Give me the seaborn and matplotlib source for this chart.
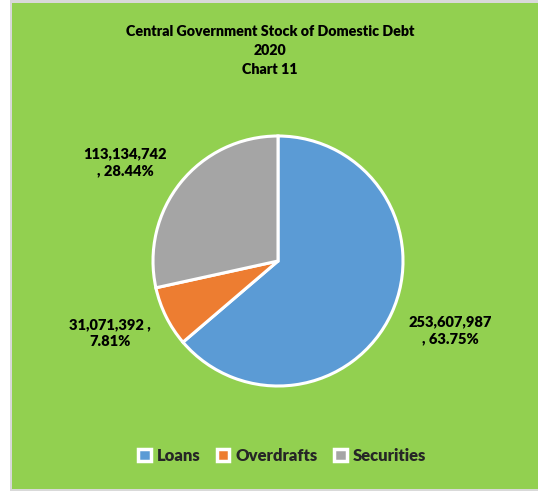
import matplotlib
matplotlib.use("Agg")
import matplotlib.pyplot as plt
from matplotlib.patches import Rectangle, Patch
import seaborn as sns

categories = ["Loans", "Overdrafts", "Securities"]
values = [253607987, 31071392, 113134742]
percents = ["63.75%", "7.81%", "28.44%"]
colors = ["#5B9BD5", "#ED7D31", "#A5A5A5"]
title_lines = ["Central Government Stock of Domestic Debt", "2020", "Chart 11"]

sns.set_theme(style="white")
plt.rcParams["font.family"] = ["Lato", "DejaVu Sans"]

W, H = 538, 491
fig = plt.figure(figsize=(W / 100, H / 100), dpi=100, facecolor="white")

def fx(px):
    return px / W

def fy(py):
    return 1 - py / H

# chart area background with thin grey frame, on an underlay axes
bg = fig.add_axes([0, 0, 1, 1], zorder=-10)
bg.set_xlim(0, W)
bg.set_ylim(H, 0)
bg.axis("off")
bg.add_patch(Rectangle((10, 0), 528, 491, facecolor="#D9D9D9", edgecolor="none"))
bg.add_patch(Rectangle((12, 2.5), 526, 486.5, facecolor="#92D050", edgecolor="none"))

# pie axes: centre (278, 261), radius 125 px
cx, cy, r = 278, 261, 125
ax = fig.add_axes([fx(cx - r), fy(cy + r), fx(2 * r), 2 * r / H], zorder=1)
ax.set_facecolor("none")
wedges, _ = ax.pie(values, colors=colors, startangle=90, counterclock=False,
                   wedgeprops=dict(edgecolor="white", linewidth=2.2, clip_on=False),
                   radius=1)
ax.set_xlim(-1.0, 1.0)
ax.set_ylim(-1.0, 1.0)
ax.set_aspect("equal")
ax.axis("off")

# title
for i, line in enumerate(title_lines):
    fig.text(fx(270), fy(31 + i * 19.5), line, ha="center", va="center",
             fontsize=10.3, fontweight="heavy", color="black", zorder=5)

# data labels
def fmt(v):
    return f"{v:,}"

label_specs = [
    (450, 330, f"{fmt(values[0])}\n, {percents[0]}"),
    (110, 333, f"{fmt(values[1])} ,\n{percents[1]}"),
    (125, 162, f"{fmt(values[2])}\n, {percents[2]}"),
]
for x, y, txt in label_specs:
    fig.text(fx(x), fy(y), txt, ha="center", va="center", fontsize=10.5,
             fontweight="heavy", color="black", linespacing=1.4, zorder=5)

# legend
handles = [Patch(facecolor=c, edgecolor="white", linewidth=2.5) for c in colors]
leg = fig.legend(handles, categories, loc="center", bbox_to_anchor=(fx(282), fy(456)),
                 ncol=3, frameon=False, handlelength=0.75, handleheight=0.75,
                 handletextpad=0.35, columnspacing=1.0,
                 prop=dict(size=12, weight="heavy"))
leg.set_zorder(5)

fig.savefig("out.png", dpi=100, facecolor="white")
